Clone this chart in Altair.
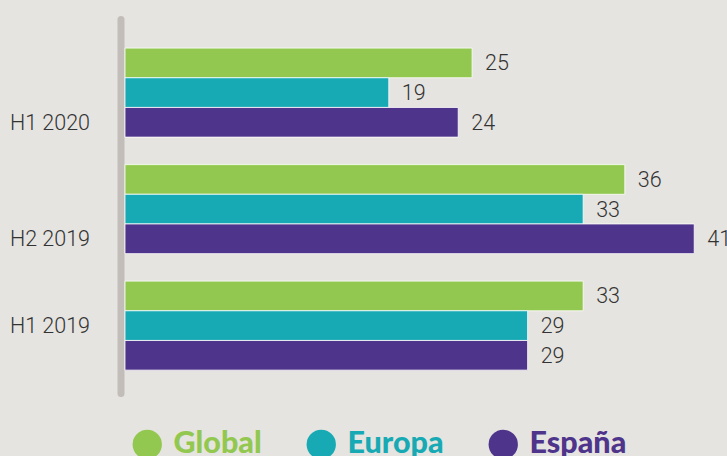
import altair as alt
import pandas as pd

categories = ["H1 2020", "H2 2019", "H1 2019"]
series = ["Global", "Europa", "España"]
global_vals = [25, 36, 33]
europa_vals = [19, 33, 29]
espana_vals = [24, 41, 29]
colors = ["#92c850", "#17aab4", "#4e348a"]
# which bar row each category label sits beside
label_anchor = ["España", "España", "Europa"]

rows = []
for i, c in enumerate(categories):
    for s, vals in zip(series, [global_vals, europa_vals, espana_vals]):
        rows.append({"category": c, "series": s, "value": vals[i]})
df = pd.DataFrame(rows)
labels_df = pd.DataFrame({"category": categories, "series": label_anchor})

y_enc = alt.Y("category:N", sort=categories, title=None,
              scale=alt.Scale(domain=categories, paddingInner=0.236, paddingOuter=0.223, align=0.56),
              axis=alt.Axis(labels=False, ticks=False, domain=True, domainWidth=7,
                            domainColor="#c2bdb9", domainCap="round", offset=4.5, grid=False))
yoff = alt.YOffset("series:N", scale=alt.Scale(domain=series, paddingInner=0, paddingOuter=0))
x_enc = alt.X("value:Q", scale=alt.Scale(domain=[0, 43]), axis=None)

bars = alt.Chart(df).mark_bar(stroke="white", strokeWidth=1, strokeOpacity=0.8).encode(
    y=y_enc, yOffset=yoff, x=x_enc,
    color=alt.Color("series:N", scale=alt.Scale(domain=series, range=colors),
                    legend=alt.Legend(title=None, orient="none", legendX=7, legendY=410,
                                      direction="horizontal", symbolType="circle", symbolSize=860,
                                      symbolStrokeWidth=0, symbolOpacity=1,
                                      labelFont="Lato", labelFontWeight=900, labelFontSize=30.5,
                                      labelOffset=11, columnPadding=44, padding=0,
                                      labelColor=alt.ExprRef("scale('color', datum.value)")))
)

values = alt.Chart(df).mark_text(align="left", baseline="middle", dx=13, dy=1.5, font="Roboto",
                                 fontWeight=300, fontSize=21.5, color="#333333").encode(
    y=alt.Y("category:N", sort=categories), yOffset=alt.YOffset("series:N"), x=x_enc,
    text=alt.Text("value:Q")
)

cat_labels = alt.Chart(labels_df).mark_text(align="right", baseline="middle", dy=1.5, font="Roboto",
                                            fontWeight=300, fontSize=21.5, color="#333333").encode(
    y=alt.Y("category:N", sort=categories), yOffset=alt.YOffset("series:N"),
    x=alt.value(-35), text="category:N"
)

chart = alt.layer(bars, values, cat_labels).properties(
    width=597, height=374,
    padding={"left": 125, "top": 19, "right": 5, "bottom": 63},
    autosize=alt.AutoSizeParams(type="none"),
    background="#e5e4e0"
).configure_view(stroke=None)

chart.save("out.html", embed_options={"renderer": "svg", "actions": False})
